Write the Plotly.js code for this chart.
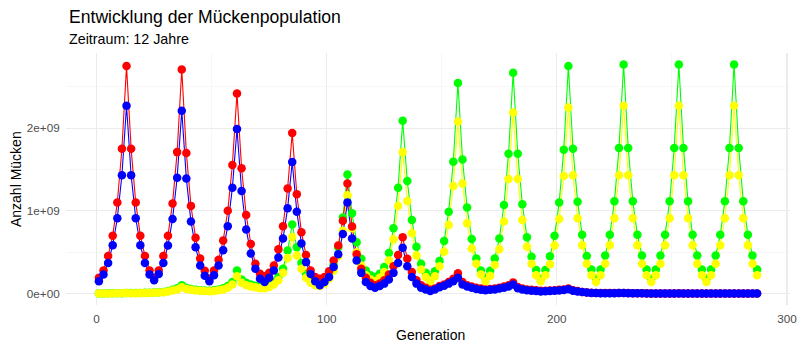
<!DOCTYPE html>
<html>
<head>
<meta charset="utf-8">
<script src="https://cdn.plot.ly/plotly-3.0.1.min.js"></script>
<style>html,body{margin:0;padding:0;background:#fff;}#chart{width:800px;height:350px;}</style>
</head>
<body>
<div id="chart"></div>
<script>
// Generation index (every second generation, 12 per year, 12 years)
const generation = Array.from({length: 144}, (_, i) => 1 + 2 * i);

// Populations in billions (1e9), one row per year
const red = [
  0.19, 0.28, 0.455, 0.70, 1.10, 1.75, 2.75, 1.75, 1.10, 0.70, 0.455, 0.28,
  0.19, 0.28, 0.455, 0.70, 1.09, 1.71, 2.71, 1.70, 1.06, 0.675, 0.425, 0.275,
  0.18, 0.28, 0.41, 0.64, 1.00, 1.555, 2.42, 1.515, 0.95, 0.60, 0.36, 0.24,
  0.21, 0.25, 0.34, 0.535, 0.815, 1.27, 1.94, 1.20, 0.74, 0.465, 0.28, 0.20,
  0.18, 0.20, 0.27, 0.40, 0.58, 0.88, 1.33, 0.81, 0.475, 0.30, 0.19, 0.13,
  0.10, 0.12, 0.16, 0.23, 0.33, 0.465, 0.68, 0.42, 0.26, 0.16, 0.10, 0.07,
  0.045, 0.06, 0.09, 0.11, 0.14, 0.18, 0.245, 0.14, 0.10, 0.085, 0.07, 0.06,
  0.05, 0.055, 0.06, 0.07, 0.085, 0.10, 0.135, 0.08, 0.06, 0.05, 0.045, 0.04,
  0.035, 0.035, 0.038, 0.04, 0.045, 0.05, 0.06, 0.04, 0.03, 0.02, 0.014, 0.01,
  0.007, 0.006, 0.006, 0.006, 0.006, 0.007, 0.008, 0.006, 0.005, 0.004, 0.003, 0.003,
  0.002, 0.002, 0.002, 0.002, 0.002, 0.002, 0.003, 0.002, 0.002, 0.002, 0.001, 0.001,
  0.001, 0.001, 0.001, 0.001, 0.001, 0.001, 0.001, 0.001, 0.001, 0.001, 0.001, 0.001
];
const blue = [
  0.15, 0.23, 0.37, 0.585, 0.91, 1.43, 2.27, 1.43, 0.91, 0.585, 0.37, 0.23,
  0.16, 0.235, 0.37, 0.58, 0.90, 1.40, 2.21, 1.39, 0.87, 0.56, 0.34, 0.215,
  0.15, 0.22, 0.34, 0.525, 0.815, 1.28, 1.99, 1.24, 0.775, 0.485, 0.30, 0.18,
  0.14, 0.19, 0.28, 0.435, 0.665, 1.03, 1.59, 0.99, 0.605, 0.38, 0.235, 0.15,
  0.10, 0.14, 0.20, 0.32, 0.475, 0.72, 1.10, 0.665, 0.40, 0.25, 0.14, 0.09,
  0.07, 0.09, 0.12, 0.17, 0.25, 0.37, 0.555, 0.33, 0.20, 0.12, 0.07, 0.05,
  0.03, 0.05, 0.075, 0.095, 0.12, 0.15, 0.19, 0.11, 0.085, 0.07, 0.055, 0.045,
  0.04, 0.045, 0.05, 0.06, 0.07, 0.085, 0.11, 0.065, 0.05, 0.04, 0.035, 0.03,
  0.025, 0.028, 0.03, 0.033, 0.037, 0.042, 0.052, 0.035, 0.025, 0.018, 0.012, 0.008,
  0.006, 0.005, 0.005, 0.005, 0.005, 0.006, 0.007, 0.005, 0.004, 0.003, 0.003, 0.002,
  0.002, 0.002, 0.002, 0.002, 0.002, 0.002, 0.002, 0.002, 0.001, 0.001, 0.001, 0.001,
  0.001, 0.001, 0.001, 0.001, 0.001, 0.001, 0.001, 0.001, 0.001, 0.001, 0.001, 0.001
];
const green = [
  0.002, 0.002, 0.003, 0.003, 0.004, 0.005, 0.008, 0.007, 0.007, 0.008, 0.009, 0.01,
  0.012, 0.015, 0.02, 0.03, 0.045, 0.065, 0.10, 0.07, 0.055, 0.045, 0.04, 0.038,
  0.035, 0.04, 0.05, 0.065, 0.09, 0.14, 0.28, 0.17, 0.13, 0.11, 0.095, 0.085,
  0.08, 0.10, 0.14, 0.20, 0.30, 0.52, 0.835, 0.56, 0.37, 0.24, 0.16, 0.12,
  0.12, 0.16, 0.23, 0.35, 0.56, 0.92, 1.44, 0.97, 0.62, 0.42, 0.28, 0.22,
  0.20, 0.24, 0.32, 0.49, 0.79, 1.28, 2.09, 1.36, 0.89, 0.565, 0.36, 0.25,
  0.20, 0.27, 0.395, 0.635, 0.99, 1.595, 2.545, 1.62, 1.04, 0.66, 0.425, 0.28,
  0.19, 0.275, 0.425, 0.665, 1.07, 1.69, 2.67, 1.69, 1.08, 0.68, 0.445, 0.285,
  0.18, 0.285, 0.45, 0.70, 1.10, 1.74, 2.75, 1.75, 1.11, 0.71, 0.455, 0.29,
  0.18, 0.29, 0.46, 0.71, 1.115, 1.76, 2.77, 1.76, 1.115, 0.71, 0.46, 0.29,
  0.18, 0.29, 0.46, 0.71, 1.115, 1.76, 2.77, 1.76, 1.115, 0.71, 0.46, 0.29,
  0.18, 0.29, 0.46, 0.71, 1.115, 1.76, 2.77, 1.76, 1.115, 0.71, 0.46, 0.29
];
const yellow = [
  0.001, 0.001, 0.002, 0.002, 0.003, 0.004, 0.006, 0.005, 0.005, 0.006, 0.007, 0.008,
  0.01, 0.012, 0.016, 0.024, 0.036, 0.05, 0.075, 0.055, 0.045, 0.037, 0.033, 0.03,
  0.028, 0.032, 0.04, 0.05, 0.07, 0.11, 0.21, 0.13, 0.10, 0.085, 0.075, 0.065,
  0.065, 0.08, 0.11, 0.16, 0.25, 0.43, 0.685, 0.46, 0.30, 0.19, 0.13, 0.10,
  0.09, 0.12, 0.18, 0.28, 0.45, 0.76, 1.19, 0.79, 0.50, 0.34, 0.22, 0.17,
  0.15, 0.19, 0.26, 0.40, 0.655, 1.06, 1.71, 1.12, 0.73, 0.46, 0.29, 0.20,
  0.15, 0.21, 0.33, 0.505, 0.83, 1.30, 2.08, 1.33, 0.85, 0.545, 0.36, 0.23,
  0.15, 0.215, 0.345, 0.535, 0.87, 1.385, 2.19, 1.385, 0.89, 0.565, 0.36, 0.22,
  0.15, 0.22, 0.355, 0.58, 0.90, 1.42, 2.25, 1.43, 0.91, 0.585, 0.36, 0.22,
  0.14, 0.22, 0.36, 0.585, 0.91, 1.43, 2.27, 1.43, 0.91, 0.585, 0.36, 0.22,
  0.14, 0.22, 0.36, 0.585, 0.91, 1.43, 2.27, 1.43, 0.91, 0.585, 0.36, 0.22,
  0.14, 0.22, 0.36, 0.585, 0.91, 1.43, 2.27, 1.43, 0.91, 0.585, 0.36, 0.22
];

const xTickVals = [0, 100, 200, 300];
const xTickText = ['0', '100', '200', '300'];
const yTickVals = [0, 1, 2];
const yTickText = ['0e+00', '1e+09', '2e+09'];

const seriesList = [
  {y: green, color: '#00FF00'},
  {y: yellow, color: '#FFFF00'},
  {y: red, color: '#FF0000'},
  {y: blue, color: '#0000FF'}
];

const traces = [];
seriesList.forEach(s => traces.push({
  x: generation, y: s.y, type: 'scatter', mode: 'lines',
  line: {color: s.color, width: 1.1}, hoverinfo: 'skip', showlegend: false
}));
seriesList.forEach(s => traces.push({
  x: generation, y: s.y, type: 'scatter', mode: 'markers',
  marker: {color: s.color, size: 8.5}, showlegend: false
}));

const font = 'Liberation Sans, Arial, sans-serif';
const layout = {
  width: 800, height: 350,
  margin: {l: 66, r: 9.5, t: 53, b: 45},
  paper_bgcolor: '#fff', plot_bgcolor: '#fff',
  font: {family: font, color: '#000'},
  showlegend: false,
  xaxis: {
    range: [-13.3, 301.3], tickmode: 'array', tickvals: xTickVals, ticktext: xTickText,
    showgrid: true, gridcolor: '#EBEBEB', gridwidth: 1.1, zeroline: false, showline: false,
    ticks: 'outside', ticklen: 3, tickcolor: 'rgba(0,0,0,0)',
    tickfont: {family: font, size: 11.7, color: '#4D4D4D'},
    minor: {tickmode: 'array', tickvals: [50, 150, 250], showgrid: true, gridcolor: '#F2F2F2', gridwidth: 0.6, ticks: ''}
  },
  yaxis: {
    range: [-0.1385, 2.9085], tickmode: 'array', tickvals: yTickVals, ticktext: yTickText,
    showgrid: true, gridcolor: '#EBEBEB', gridwidth: 1.1, zeroline: false, showline: false,
    ticks: 'outside', ticklen: 3, tickcolor: 'rgba(0,0,0,0)',
    tickfont: {family: font, size: 11.7, color: '#4D4D4D'},
    minor: {tickmode: 'array', tickvals: [0.5, 1.5, 2.5], showgrid: true, gridcolor: '#F2F2F2', gridwidth: 0.6, ticks: ''}
  },
  annotations: [
    {text: 'Entwicklung der Mückenpopulation', xref: 'paper', yref: 'paper', x: 0, y: 1.1429,
     xanchor: 'left', yanchor: 'middle', xshift: 1, showarrow: false, font: {size: 17.6, color: '#000'}},
    {text: 'Zeitraum: 12 Jahre', xref: 'paper', yref: 'paper', x: 0, y: 1.0556,
     xanchor: 'left', yanchor: 'middle', xshift: 1, showarrow: false, font: {size: 14.3, color: '#000'}},
    {text: 'Generation', xref: 'paper', yref: 'paper', x: 0.504, y: -0.119,
     xanchor: 'center', yanchor: 'middle', showarrow: false, font: {size: 14, color: '#000'}},
    {text: 'Anzahl Mücken', xref: 'paper', yref: 'paper', x: -0.069, y: 0.5, textangle: -90,
     xanchor: 'center', yanchor: 'middle', showarrow: false, font: {size: 14, color: '#000'}}
  ]
};

Plotly.newPlot('chart', traces, layout, {displayModeBar: false, staticPlot: true});
</script>
</body>
</html>
